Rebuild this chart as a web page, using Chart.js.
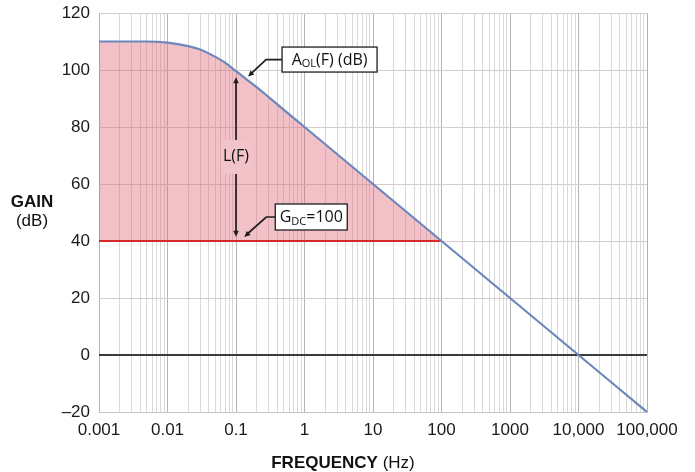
<!DOCTYPE html>
<html>
<head>
<meta charset="utf-8">
<script src="https://cdn.jsdelivr.net/npm/chart.js@4.4.0/dist/chart.umd.min.js"></script>
<style>
  html, body { margin: 0; padding: 0; background: #ffffff; }
  #wrap { width: 695px; height: 472px; }
</style>
</head>
<body>
<div id="wrap"><canvas id="bode" width="695" height="472"></canvas></div>
<script>
// Open-loop gain of the amplifier, A_OL(F), in dB
const frequencyHz    = [0.001, 0.005, 0.01, 0.02, 0.03, 0.05, 0.07, 0.1, 0.15, 0.2, 0.3, 0.5, 1, 10, 100, 1000, 10000, 100000];
const openLoopGainDb = [110, 110, 109.6, 108.4, 107.2, 104.6, 102.5, 99.6, 96.3, 94, 90.5, 86, 80, 60, 40, 20, 0, -20];

// Closed-loop gain G_DC = 100 (40 dB), flat up to where it meets A_OL
const closedLoopGainDb = 40;
const closedLoopEndHz  = 100;

// Loop gain L(F) arrow, drawn at 0.1 Hz between the two gain curves
const loopGainArrowHz = 0.1;
const loopGainArrowDb = [41.5, 97.5];

// Callout anchors
const aolCalloutHz = 0.15;
const gdcCalloutHz = 0.132;

// Axis ticks
const xTickValues = [0.001, 0.01, 0.1, 1, 10, 100, 1000, 10000, 100000];
const xTickLabels = ['0.001', '0.01', '0.1', '1', '10', '100', '1000', '10,000', '100,000'];
const yTickValues = [-20, 0, 20, 40, 60, 80, 100, 120];
const yTickLabels = ['\u201320', '0', '20', '40', '60', '80', '100', '120'];

const curvePoints  = frequencyHz.map((f, i) => ({ x: f, y: openLoopGainDb[i] }));
const shadedPoints = curvePoints.filter(p => p.x <= closedLoopEndHz);
const gdcPoints    = [{ x: frequencyHz[0], y: closedLoopGainDb }, { x: closedLoopEndHz, y: closedLoopGainDb }];

// log grid: 1..9 in every decade
const gridValues = [];
for (let d = -3; d <= 4; d++) {
  for (let m = 1; m <= 9; m++) gridValues.push(Number((m * Math.pow(10, d)).toPrecision(6)));
}
gridValues.push(100000);

const isDecade = v => xTickValues.some(t => Math.abs(Math.log10(v) - Math.log10(t)) < 1e-6);

const TICK_FONT = "'Liberation Sans', Arial, Helvetica, sans-serif";
const NOTE_FONT = "'Open Sans', 'Noto Sans', sans-serif";

function arrowHead(ctx, x, y, angle, len, half) {
  ctx.save();
  ctx.translate(x, y);
  ctx.rotate(angle);
  ctx.beginPath();
  ctx.moveTo(0, 0);
  ctx.lineTo(-len, -half);
  ctx.lineTo(-len, half);
  ctx.closePath();
  ctx.fill();
  ctx.restore();
}

// text with a subscript part: parts = [[text, isSub], ...]
function measureParts(ctx, parts, size, subSize) {
  let w = 0;
  for (const [t, sub] of parts) {
    ctx.font = (sub ? subSize : size) + 'px ' + NOTE_FONT;
    w += ctx.measureText(t).width;
  }
  return w;
}
function drawParts(ctx, parts, x, y, size, subSize) {
  for (const [t, sub] of parts) {
    ctx.font = (sub ? subSize : size) + 'px ' + NOTE_FONT;
    ctx.fillText(t, x, sub ? y + 4 : y);
    x += ctx.measureText(t).width;
  }
}

function callout(ctx, tipX, tipY, elbowDx, elbowDy, boxDx, boxW, boxH, parts) {
  const size = 16, subSize = 11;
  const tw = measureParts(ctx, parts, size, subSize);
  const ex = tipX + elbowDx, ey = tipY + elbowDy;
  const bx = tipX + boxDx;
  ctx.strokeStyle = '#1e1e1e';
  ctx.fillStyle = '#1e1e1e';
  ctx.lineWidth = 1.7;
  ctx.beginPath();
  ctx.moveTo(bx, ey);
  ctx.lineTo(ex, ey);
  ctx.lineTo(tipX + 3, tipY - 3);
  ctx.stroke();
  arrowHead(ctx, tipX, tipY, Math.atan2(tipY - ey, tipX - ex), 6, 2.8);
  ctx.fillStyle = '#ffffff';
  ctx.fillRect(bx, ey - boxH / 2, boxW, boxH);
  ctx.lineWidth = 1.3;
  ctx.strokeRect(bx, ey - boxH / 2, boxW, boxH);
  ctx.fillStyle = '#111111';
  ctx.textBaseline = 'middle';
  ctx.textAlign = 'left';
  drawParts(ctx, parts, bx + (boxW - tw) / 2, ey + 0.5, size, subSize);
}

const annotations = {
  id: 'annotations',
  afterDatasetsDraw(chart) {
    const { ctx, scales: { x, y } } = chart;
    ctx.save();

    // L(F) double-headed arrow
    const ax = x.getPixelForValue(loopGainArrowHz);
    const yb = y.getPixelForValue(loopGainArrowDb[0]);
    const yt = y.getPixelForValue(loopGainArrowDb[1]);
    ctx.strokeStyle = '#1e1e1e';
    ctx.fillStyle = '#1e1e1e';
    ctx.lineWidth = 1.7;
    ctx.beginPath();
    ctx.moveTo(ax, yb - 4);
    ctx.lineTo(ax, yt + 4);
    ctx.stroke();
    arrowHead(ctx, ax, yt, -Math.PI / 2, 6, 2.8);
    arrowHead(ctx, ax, yb, Math.PI / 2, 6, 2.8);

    // L(F) label on the shaded area
    const ly = y.getPixelForValue((loopGainArrowDb[0] + loopGainArrowDb[1]) / 2);
    ctx.font = '16px ' + NOTE_FONT;
    const lw = ctx.measureText('L(F)').width;
    ctx.fillStyle = 'rgb(242,196,201)';
    ctx.fillRect(ax - lw / 2 - 2, ly - 17, lw + 4, 34);
    ctx.fillStyle = '#111111';
    ctx.textAlign = 'center';
    ctx.textBaseline = 'middle';
    ctx.fillText('L(F)', ax, ly);

    // A_OL(F) callout
    const ai = frequencyHz.indexOf(aolCalloutHz);
    callout(ctx, x.getPixelForValue(aolCalloutHz), y.getPixelForValue(openLoopGainDb[ai]) - 4,
      18, -17, 34, 95, 25, [['A', false], ['OL', true], ['(F) (dB)', false]]);

    // G_DC callout
    callout(ctx, x.getPixelForValue(gdcCalloutHz), y.getPixelForValue(closedLoopGainDb) - 4,
      22, -20, 31, 72, 26, [['G', false], ['DC', true], ['=100', false]]);

    ctx.restore();
  },
  afterDraw(chart) {
    const { ctx, chartArea: a } = chart;
    ctx.save();
    ctx.fillStyle = '#111111';
    ctx.textBaseline = 'middle';
    ctx.textAlign = 'center';
    const midY = (a.top + a.bottom) / 2;
    ctx.font = 'bold 17px ' + TICK_FONT;
    ctx.fillText('GAIN', 32, midY - 10);
    ctx.font = '17px ' + TICK_FONT;
    ctx.fillText('(dB)', 32, midY + 9);

    // FREQUENCY (Hz)
    ctx.textAlign = 'left';
    ctx.font = 'bold 17px ' + TICK_FONT;
    const w1 = ctx.measureText('FREQUENCY').width;
    ctx.font = '17px ' + TICK_FONT;
    const w2 = ctx.measureText(' (Hz)').width;
    const x0 = 343 - (w1 + w2) / 2;
    ctx.font = 'bold 17px ' + TICK_FONT;
    ctx.fillText('FREQUENCY', x0, 463);
    ctx.font = '17px ' + TICK_FONT;
    ctx.fillText(' (Hz)', x0 + w1, 463);
    ctx.restore();
  }
};

new Chart(document.getElementById('bode'), {
  type: 'line',
  data: {
    datasets: [
      {
        label: 'A_OL(F)',
        data: curvePoints,
        borderColor: '#6d86bc',
        borderWidth: 2.2,
        pointRadius: 0,
        cubicInterpolationMode: 'monotone',
        fill: false,
        order: 0
      },
      {
        label: 'G_DC',
        data: gdcPoints,
        borderColor: '#d8282b',
        borderWidth: 2.2,
        pointRadius: 0,
        fill: false,
        order: 1
      },
      {
        label: 'L(F)',
        data: shadedPoints,
        borderWidth: 0,
        borderColor: 'rgba(0,0,0,0)',
        backgroundColor: 'rgba(220,100,115,0.40)',
        pointRadius: 0,
        cubicInterpolationMode: 'monotone',
        fill: { value: closedLoopGainDb },
        order: 2
      }
    ]
  },
  options: {
    responsive: false,
    animation: false,
    devicePixelRatio: 1,
    layout: { autoPadding: false, padding: { top: 13, right: 48, left: 0, bottom: 0 } },
    plugins: {
      legend: { display: false },
      tooltip: { enabled: false }
    },
    scales: {
      x: {
        type: 'logarithmic',
        min: xTickValues[0],
        max: xTickValues[xTickValues.length - 1],
        afterBuildTicks: s => { s.ticks = gridValues.map(v => ({ value: v })); },
        afterFit: s => { s.height = 60; },
        ticks: {
          autoSkip: false,
          maxRotation: 0,
          padding: 8,
          color: '#1a1a1a',
          font: { family: TICK_FONT, size: 17 },
          callback: v => {
            const i = xTickValues.findIndex(t => Math.abs(Math.log10(v) - Math.log10(t)) < 1e-6);
            return i >= 0 ? xTickLabels[i] : '';
          }
        },
        grid: {
          drawTicks: false,
          color: c => isDecade(c.tick.value) ? '#b4b4b4' : '#d9d9d9',
          lineWidth: 1
        },
        border: { display: true, color: '#c4c4c4' }
      },
      y: {
        min: yTickValues[0],
        max: yTickValues[yTickValues.length - 1],
        afterFit: s => { s.width = 99; },
        afterBuildTicks: s => { s.ticks = yTickValues.map(v => ({ value: v })); },
        ticks: {
          padding: 9,
          color: '#1a1a1a',
          font: { family: TICK_FONT, size: 17, lineHeight: 0.4 },
          callback: v => {
            const i = yTickValues.indexOf(v);
            return i >= 0 ? yTickLabels[i] : '';
          }
        },
        grid: {
          drawTicks: false,
          color: c => c.tick.value === 0 ? '#3a3a3a' : '#d8cbcb',
          lineWidth: c => c.tick.value === 0 ? 2 : 1
        },
        border: { display: false }
      }
    }
  },
  plugins: [annotations]
});
</script>
</body>
</html>
